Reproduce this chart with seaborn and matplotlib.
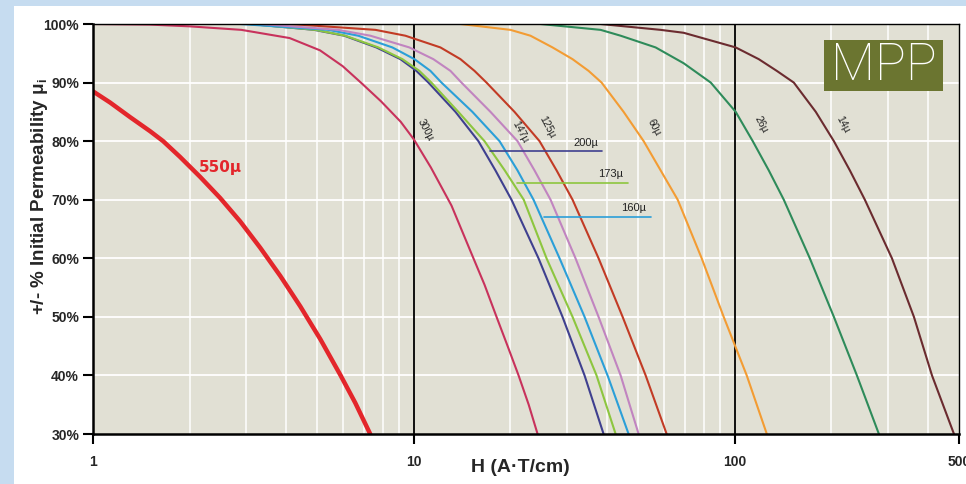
import pandas as pd
import seaborn as sns
import matplotlib.pyplot as plt
from matplotlib.patches import Rectangle

# MPP permeability vs DC bias, H in A·T/cm, permeability in % of initial
h_550 = [1.0, 1.13, 1.305, 1.506, 1.654, 1.868, 2.157, 2.49, 2.875, 3.32, 3.833, 4.425, 5.109, 5.898, 6.569, 7.31]
p_550 = [88.5, 86.6, 84.1, 81.7, 80.0, 77.3, 73.9, 70.3, 66.3, 61.8, 57.0, 51.8, 46.2, 40.1, 35.3, 30.0]

h_300 = [1.0, 1.5, 2.0, 2.9, 4.1, 5.1, 6.0, 6.9, 7.9, 9.1, 10.0, 11.3, 13.1, 15.2, 16.6, 18.1, 19.6, 21.2, 22.8, 24.3]
p_300 = [100, 99.9, 99.6, 99.0, 97.6, 95.5, 92.8, 89.8, 86.8, 83.3, 80.3, 75.5, 69.0, 60.5, 55.5, 50.0, 45.0, 40.0, 35.0, 30.0]

h_200 = [3.09, 4.89, 6.07, 7.64, 9.08, 10.18, 11.10, 13.48, 15.89, 17.96, 20.15, 24.46, 29.06, 34.04, 39.02]
p_200 = [100, 99, 98, 96, 94, 92, 90, 85, 80, 75, 70, 60, 50, 40, 30]

h_173 = [3.09, 4.93, 6.11, 7.75, 9.21, 10.40, 11.34, 13.76, 16.60, 19.20, 22.0, 25.91, 31.23, 37.10, 42.54]
p_173 = [100, 99, 98, 96, 94, 92, 90, 85, 80, 75, 70, 60, 50, 40, 30]

h_160 = [2.875, 5.41, 6.71, 8.57, 10.04, 11.26, 12.19, 15.22, 18.49, 21.04, 23.60, 28.45, 34.04, 40.15, 46.69]
p_160 = [100, 99, 98, 96, 94, 92, 90, 85, 80, 75, 70, 60, 50, 40, 30]

h_147 = [3.32, 5.81, 7.32, 9.68, 11.50, 13.00, 14.07, 17.33, 21.04, 23.77, 26.67, 31.90, 37.64, 44.10, 50.17]
p_147 = [100, 99, 98, 96, 94, 92, 90, 85, 80, 75, 70, 60, 50, 40, 30]

h_125 = [4.12, 7.59, 9.41, 12.10, 13.97, 15.45, 16.84, 20.59, 24.64, 27.85, 31.23, 37.64, 44.73, 52.77, 61.35]
p_125 = [100, 99, 98, 96, 94, 92, 90, 85, 80, 75, 70, 60, 50, 40, 30]

h_60 = [13.97, 20.0, 23.09, 27.05, 31.22, 35.03, 38.46, 45.05, 52.02, 58.77, 66.41, 78.89, 92.39, 109.0, 125.9]
p_60 = [100, 99, 98, 96, 94, 92, 90, 85, 80, 75, 70, 60, 50, 40, 30]

h_26 = [24.81, 38.19, 44.10, 56.68, 69.32, 84.19, 100.7, 113.8, 127.7, 142.2, 171.4, 203.7, 240.3, 281.4]
p_26 = [100, 99, 98, 96, 93.3, 90, 85, 80, 75, 70, 60, 50, 40, 30]

h_14 = [38.19, 58.76, 69.32, 100.7, 118.8, 135.2, 152.8, 178.9, 203.7, 228.5, 254.4, 309.0, 361.8, 411.9, 482.3]
p_14 = [100, 99, 98.5, 96, 94, 92, 90, 85, 80, 75, 70, 60, 50, 40, 30]

# rotated curve labels
tag_names = ["300µ", "147µ", "125µ", "60µ", "26µ", "14µ"]
tag_h = [10.9, 21.5, 26.1, 55.9, 120.5, 217]
tag_p = [81.9, 81.6, 82.4, 82.4, 82.9, 82.8]

# leader lines for the crowded curves
lead_names = ["200µ", "173µ", "160µ"]
lead_h0 = [17.3, 21.0, 25.5]
lead_h1 = [38.7, 46.4, 54.7]
lead_p = [78.3, 72.9, 67.05]

curves = [
    ("550µ", h_550, p_550), ("300µ", h_300, p_300), ("200µ", h_200, p_200),
    ("173µ", h_173, p_173), ("160µ", h_160, p_160), ("147µ", h_147, p_147),
    ("125µ", h_125, p_125), ("60µ", h_60, p_60), ("26µ", h_26, p_26),
    ("14µ", h_14, p_14),
]
colors = {
    "550µ": "#e3262b", "300µ": "#c8325c", "200µ": "#3f408f", "173µ": "#8dc63f",
    "160µ": "#2b9fd8", "147µ": "#c184c0", "125µ": "#c23b25", "60µ": "#f39c33",
    "26µ": "#2e8b5a", "14µ": "#6b2b2f",
}

sns.set_style("white")
plt.rcParams['font.family'] = ['Liberation Sans', 'DejaVu Sans']

fig = plt.figure(figsize=(9.66, 4.84), dpi=100, facecolor="#c6dcf0")
fig.patches.append(Rectangle((14 / 966, 0), 1, 478 / 484, transform=fig.transFigure,
                             facecolor="white", edgecolor="none", zorder=-5))
ax = fig.add_axes([93 / 966, 50 / 484, 866 / 966, 410 / 484])
ax.set_facecolor("#e1e0d4")

for name, h, p in curves:
    df = pd.DataFrame({"H": h, "P": p})
    sns.lineplot(data=df, x="H", y="P", ax=ax, color=colors[name], sort=False,
                 estimator=None, lw=3.2 if name == "550µ" else 1.5, zorder=3)

ax.set_xscale("log")
ax.set_xlim(1, 500)
ax.set_ylim(30, 100)

# grid: white minor verticals, black decade lines
minor = [m * 10 ** d for d in range(3) for m in range(2, 10) if m * 10 ** d < 500]
for v in minor:
    ax.axvline(v, color="white", lw=1.1, zorder=1)
for v in [10, 100]:
    ax.axvline(v, color="black", lw=1.3, zorder=2)
for v in range(40, 100, 10):
    ax.axhline(v, color="white", lw=1.3, zorder=1)

ax.set_xticks([1, 10, 100, 500])
ax.set_xticklabels(["1", "10", "100", "500"])
ax.set_xticks([], minor=True)
ax.set_yticks(range(30, 101, 10))
ax.set_yticklabels([f"{v}%" for v in range(30, 101, 10)])
ax.tick_params(axis="both", direction="out", length=7, width=1.5, color="black",
               labelsize=10, left=True, bottom=True)
ax.tick_params(axis="x", pad=8)
ax.tick_params(axis="y", pad=3)
for t in ax.get_xticklabels() + ax.get_yticklabels():
    t.set_fontweight("bold")
ax.set_xlabel("")
ax.set_ylabel("")
for s in ["left", "bottom"]:
    ax.spines[s].set_linewidth(1.8)
for s in ["top", "right"]:
    ax.spines[s].set_linewidth(1.0)
for s in ax.spines.values():
    s.set_color("black")
    s.set_zorder(5)

# curve labels
ax.text(2.5, 75.5, "550µ", color="#e3262b", fontsize=11, fontweight="bold",
        ha="center", va="center", family=["DejaVu Sans"])
for name, h, p in zip(tag_names, tag_h, tag_p):
    ax.text(h, p, name, rotation=-62, fontsize=7.5, color="#222222",
            ha="center", va="center", zorder=4)
for name, h0, h1, p in zip(lead_names, lead_h0, lead_h1, lead_p):
    ax.plot([h0, h1], [p, p], color=colors[name], lw=1.2, zorder=4)
    ax.text(h1 * 0.97, p + 0.6, name, fontsize=8, color="#222222",
            ha="right", va="bottom", zorder=4)

# MPP badge
ax.add_patch(Rectangle((0.844, 0.837), 0.1375, 0.124, transform=ax.transAxes,
                       facecolor="#6b7530", edgecolor="none", zorder=6))
ax.text(0.9128, 0.897, "MPP", transform=ax.transAxes, color="white", fontsize=37,
        fontweight="light", ha="center", va="center", zorder=7,
        family=["Roboto", "DejaVu Sans"])

fig.text(520 / 966, 1 - 467 / 484, "H (A·T/cm)", fontsize=14, fontweight="bold",
         ha="center", va="center")
fig.text(40 / 966, 1 - 197 / 484, r"+/- % Initial Permeability μ$_{\mathregular{i}}$",
         fontsize=13.5, fontweight="bold", rotation=90, ha="center", va="center")

fig.savefig("out.png", dpi=100, facecolor=fig.get_facecolor())
